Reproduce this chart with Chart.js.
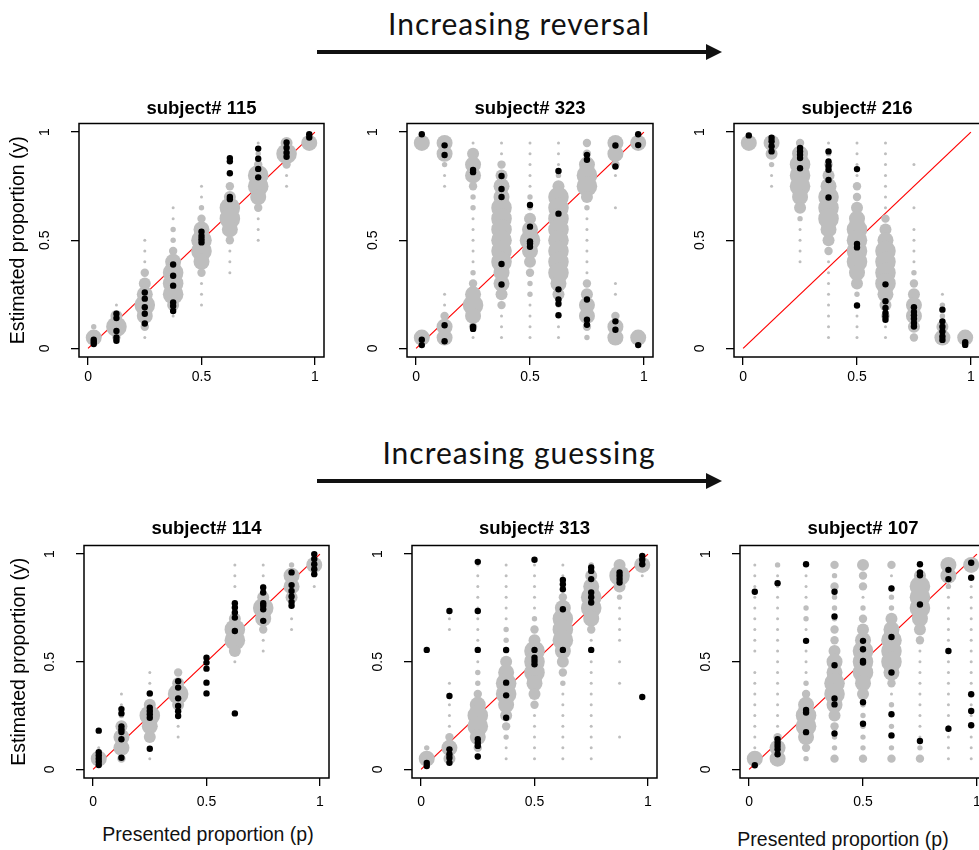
<!DOCTYPE html>
<html>
<head>
<meta charset="utf-8">
<script src="https://cdn.jsdelivr.net/npm/chart.js@4.4.1/dist/chart.umd.min.js"></script>
<style>
  html, body { margin: 0; padding: 0; background: #fff; }
  body { width: 979px; height: 850px; position: relative; overflow: hidden; font-family: 'Liberation Sans', Arial, sans-serif; }
  canvas { position: absolute; }
  .header { position: absolute; left: 317px; width: 404px; text-align: center; font-family: Lato, 'Open Sans', sans-serif; font-size: 30px; line-height: 30px; letter-spacing: 1px; color: #111; }
  .arrow { position: absolute; left: 317px; width: 390px; height: 4px; background: #111; }
  .arrow::after { content: ''; position: absolute; right: -15px; top: -6px; border-left: 16px solid #111; border-top: 8px solid transparent; border-bottom: 8px solid transparent; }
  .xtitle { position: absolute; width: 300px; text-align: center; font-size: 19.5px; line-height: 20px; color: #111; white-space: nowrap; }
</style>
</head>
<body>
<div class="header" style="top:8px">Increasing reversal</div>
<div class="arrow" style="top:50px"></div>
<div class="header" style="top:437px">Increasing guessing</div>
<div class="arrow" style="top:479px"></div>
<div class="xtitle" style="left:58px;top:824px">Presented proportion (p)</div>
<div class="xtitle" style="left:693px;top:829px">Presented proportion (p)</div>

<script>
// presented proportions (x) of the nine stimulus columns
const presented = [0.025, 0.125, 0.25, 0.375, 0.5, 0.625, 0.75, 0.875, 0.975];
// response levels of the model grid, top to bottom
const estimateLevels = [0.95, 0.9, 0.85, 0.8, 0.75, 0.7, 0.65, 0.6, 0.55, 0.5, 0.45, 0.4, 0.35, 0.3, 0.25, 0.2, 0.15, 0.1, 0.05];
const axisTicks = [0, 0.5, 1];

// model weight per column, one digit per level (0 = none ... 6 = most)
const pred115 = ['0000000000000000025', '0000000000000001463', '0000000001113456531', '0000001122356664100',
  '0000112356653111000', '0000346653111000000', '1236653111000000000', '4631100000000000000', '5000000000000000000'];
const pred323 = ['5000000000000000005', '5521100000000011355', '1455322111112356531', '1134556666665543111',
  '1111122456543221111', '1112466666666542111', '3356642111111345532', '5531001000000110355', '5000000000000000005'];
const pred216 = ['5000000000000000000', '5421100000000000000', '3566654211110000000', '1234566654311111111',
  '1111334566665422111', '1111111345666654311', '0010001011112345543', '0000000000000012245', '0000000000000000005'];
const pred114 = ['0000000000000000015', '0000000000001124553', '0000000000112465411', '0000000000346421100',
  '0000000000000000000', '1110246641000000000', '1124653110000000000', '2554011000000000000', '5010000000000000000'];
const pred313 = ['0000000000000000025', '0000011000011111354', '1111111111223566531', '1111112224566543211',
  '1111123466654311111', '1123566654321111111', '2456653111111111111', '4642111101010000100', '5100000000000000000'];
const pred107 = ['1111111110111111115', '2111111111111111355', '1111221111123566532', '3232223345566543223',
  '4331234566654222223', '3112245666531212123', '1466654311111111123', '5521111111111111111', '5011111111111111111'];

// observed responses per column
const obs115 = [[0.04, 0.03, 0.02], [0.16, 0.14, 0.08, 0.05, 0.035], [0.258, 0.23, 0.19, 0.16, 0.115],
  [0.388, 0.336, 0.29, 0.212, 0.196, 0.173], [0.539, 0.52, 0.505, 0.49], [0.88, 0.865, 0.81, 0.7, 0.69],
  [0.924, 0.877, 0.83, 0.791], [0.952, 0.928, 0.905, 0.886], [0.99, 0.975]];
const obs323 = [[0.99, 0.04, 0.015], [0.939, 0.894, 0.107, 0.033], [0.825, 0.815, 0.1, 0.09],
  [0.797, 0.737, 0.7, 0.39, 0.295], [0.663, 0.563, 0.495, 0.485, 0.47], [0.82, 0.623, 0.273, 0.226, 0.206, 0.153],
  [0.895, 0.872, 0.226, 0.132, 0.109], [0.938, 0.841, 0.125, 0.086], [0.99, 0.94, 0.015]];
const obs216 = [[0.985], [0.974, 0.958, 0.935, 0.911], [0.927, 0.911, 0.896, 0.88, 0.833],
  [0.911, 0.864, 0.844, 0.826, 0.779, 0.698], [0.829, 0.483, 0.467, 0.198], [0.296, 0.218, 0.187, 0.164, 0.148, 0.132],
  [0.19, 0.168, 0.153, 0.137, 0.117, 0.101], [0.179, 0.125, 0.1, 0.078, 0.055, 0.039], [0.028, 0.016]];
const obs114 = [[0.18, 0.08, 0.065, 0.05, 0.035, 0.02], [0.28, 0.26, 0.2, 0.186, 0.174, 0.14, 0.054],
  [0.353, 0.287, 0.271, 0.256, 0.24, 0.096], [0.41, 0.38, 0.33, 0.295, 0.27, 0.248], [0.519, 0.496, 0.468, 0.403, 0.353],
  [0.772, 0.752, 0.729, 0.705, 0.643, 0.26], [0.845, 0.822, 0.772, 0.76, 0.744, 0.69],
  [0.915, 0.856, 0.829, 0.803, 0.778, 0.76], [1.0, 0.977, 0.953, 0.93, 0.907]];
const obs313 = [[0.555, 0.03, 0.016], [0.736, 0.341, 0.093, 0.07, 0.054, 0.031], [0.964, 0.736, 0.555, 0.14, 0.124, 0.109, 0.06],
  [0.555, 0.403, 0.344, 0.24], [0.974, 0.555, 0.519, 0.504, 0.488], [0.88, 0.86, 0.837, 0.744, 0.555],
  [0.938, 0.922, 0.884, 0.822, 0.8, 0.775, 0.555], [0.915, 0.9, 0.884, 0.868], [0.992, 0.974, 0.953, 0.336]];
const obs107 = [[0.825, 0.019], [0.865, 0.14, 0.124, 0.109, 0.093, 0.07], [0.953, 0.597, 0.276, 0.264, 0.173],
  [0.825, 0.71, 0.484, 0.329, 0.302, 0.167], [0.597, 0.558, 0.504, 0.496, 0.312, 0.212], [0.84, 0.615, 0.45, 0.256, 0.158],
  [0.953, 0.915, 0.902, 0.766, 0.132], [0.927, 0.884, 0.55, 0.189], [0.96, 0.89, 0.349, 0.271, 0.205]];

// layout: plot box [left, top, width, height]
const panels = [
  { name: '115', pred: pred115, obs: obs115, box: [79, 123, 245, 234], yTitle: true, row: 0 },
  { name: '323', pred: pred323, obs: obs323, box: [407, 123, 246, 234], yTitle: false, row: 0 },
  { name: '216', pred: pred216, obs: obs216, box: [734, 123, 246, 234], yTitle: false, row: 0 },
  { name: '114', pred: pred114, obs: obs114, box: [84, 545, 245, 233], yTitle: true, row: 1 },
  { name: '313', pred: pred313, obs: obs313, box: [412, 545, 245, 233], yTitle: false, row: 1 },
  { name: '107', pred: pred107, obs: obs107, box: [740, 545, 246, 233], yTitle: false, row: 1 }
];

const LEFT = 79, TOP = 45, BOTTOM = 40, RIGHT = 6;
const RADIUS = [0, 1.5, 2.7, 4.2, 6.0, 8.0, 10.3];
const rowStyle = [
  { titlePad: { top: 22, bottom: 5 }, xTickPad: 4 },
  { titlePad: { top: 20, bottom: 7 }, xTickPad: 8 }
];

Chart.defaults.font.family = "'Liberation Sans', Arial, sans-serif";
Chart.defaults.color = '#000';

const boxPlugin = {
  id: 'plotBox',
  afterDatasetsDraw(chart) {
    const { ctx, chartArea: a } = chart;
    ctx.save();
    ctx.strokeStyle = '#000';
    ctx.lineWidth = 1.5;
    ctx.strokeRect(a.left, a.top, a.right - a.left, a.bottom - a.top);
    ctx.restore();
  }
};

function axis(extra) {
  return Object.assign({
    type: 'linear', min: -0.04, max: 1.04,
    afterBuildTicks: s => { s.ticks = axisTicks.map(v => ({ value: v })); },
    grid: { display: true, drawOnChartArea: false, drawTicks: true, tickLength: 8, color: '#000', lineWidth: 1.3 },
    border: { display: false }
  }, extra);
}

panels.forEach(p => {
  const [bx, by, bw, bh] = p.box;
  const st = rowStyle[p.row];
  const canvas = document.createElement('canvas');
  const w = LEFT + bw + RIGHT, h = TOP + bh + BOTTOM;
  canvas.width = w; canvas.height = h;
  canvas.style.width = w + 'px'; canvas.style.height = h + 'px';
  canvas.style.left = (bx - LEFT) + 'px';
  canvas.style.top = (by - TOP) + 'px';
  document.body.appendChild(canvas);

  const gray = [];
  p.pred.forEach((col, i) => {
    [...col].forEach((c, j) => {
      const wt = Number(c);
      if (wt > 0) gray.push({ x: presented[i], y: estimateLevels[j], w: wt });
    });
  });
  const black = [];
  p.obs.forEach((ys, i) => ys.forEach(y => black.push({ x: presented[i], y })));

  new Chart(canvas, {
    type: 'scatter',
    data: {
      datasets: [
        { label: 'observed', data: black, backgroundColor: '#000', pointRadius: 3.2, pointBorderWidth: 0, order: 1 },
        { label: 'model', data: gray, backgroundColor: '#bebebe', pointBorderWidth: 0, order: 2,
          pointRadius: ctx => (ctx.raw ? RADIUS[ctx.raw.w] : 0) },
        { label: 'identity', data: [{ x: 0, y: 0 }, { x: 1, y: 1 }], showLine: true,
          borderColor: '#ff0000', borderWidth: 1.2, pointRadius: 0, order: 3 }
      ]
    },
    options: {
      responsive: false,
      animation: false,
      devicePixelRatio: 1,
      events: [],
      layout: { padding: { left: 0, top: 0, right: RIGHT, bottom: 0 }, autoPadding: false },
      plugins: {
        legend: { display: false },
        tooltip: { enabled: false },
        title: {
          display: true, fullSize: false, text: 'subject# ' + p.name, color: '#000',
          font: { size: 18.5, weight: 'bold', lineHeight: 1 }, padding: st.titlePad
        }
      },
      scales: {
        x: axis({
          afterFit: s => { s.height = BOTTOM; },
          ticks: { font: { size: 14 }, padding: st.xTickPad, maxRotation: 0, autoSkip: false, callback: v => String(v) }
        }),
        y: axis({
          afterFit: s => { s.width = LEFT; },
          ticks: { font: { size: 14 }, padding: 16, minRotation: 90, maxRotation: 90, crossAlign: 'center',
            autoSkip: false, callback: v => String(v) },
          title: { display: p.yTitle, text: 'Estimated proportion (y)', font: { size: 19.5 },
            padding: { top: p.row === 0 ? 7 : 2.6, bottom: 0 } }
        })
      }
    },
    plugins: [boxPlugin]
  });
});
</script>
</body>
</html>
